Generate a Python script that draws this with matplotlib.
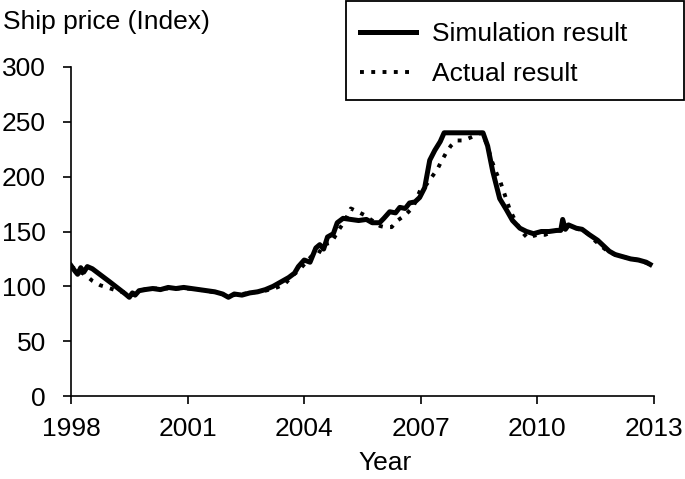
import matplotlib
matplotlib.use("Agg")
import matplotlib.pyplot as plt
from matplotlib.patches import Rectangle

plt.rcParams["font.family"] = ["Liberation Sans", "DejaVu Sans"]

# simulation result (year, index)
sim_year = [1998.00, 1998.10, 1998.17, 1998.25, 1998.33, 1998.42, 1998.55, 1999.00, 1999.40, 1999.50,
            1999.58, 1999.65, 1999.75, 1999.90, 2000.10, 2000.30, 2000.50, 2000.70, 2000.90, 2001.10,
            2001.30, 2001.50, 2001.70, 2001.90, 2002.05, 2002.20, 2002.40, 2002.60, 2002.80, 2003.00,
            2003.20, 2003.40, 2003.60, 2003.75, 2003.85, 2004.00, 2004.15, 2004.30, 2004.40, 2004.50,
            2004.60, 2004.75, 2004.85, 2005.00, 2005.20, 2005.40, 2005.60, 2005.75, 2005.94, 2006.05,
            2006.20, 2006.35, 2006.46, 2006.60, 2006.71, 2006.85, 2006.97, 2007.10, 2007.23, 2007.36,
            2007.50, 2007.60, 2008.60, 2008.72, 2008.85, 2009.03, 2009.20, 2009.36, 2009.55, 2009.72,
            2009.90, 2010.10, 2010.30, 2010.50, 2010.60, 2010.65, 2010.72, 2010.80, 2011.00, 2011.15,
            2011.34, 2011.55, 2011.70, 2011.85, 2012.00, 2012.20, 2012.40, 2012.60, 2012.80, 2012.90]
sim_val = [119, 114, 111, 117, 113, 118, 116, 104, 93, 90,
           94, 92, 96, 97, 98, 97, 99, 98, 99, 98,
           97, 96, 95, 93, 90, 93, 92, 94, 95, 97,
           100, 104, 108, 112, 118, 124, 122, 135, 138, 134,
           145, 148, 158, 162, 161, 160, 161, 158, 158, 162,
           168, 167, 172, 171, 176, 177, 181, 190, 215, 224,
           232, 240, 240, 228, 205, 180, 170, 160, 153, 150,
           148, 150, 150, 151, 151, 161, 152, 156, 153, 152,
           147, 142, 137, 132, 129, 127, 125, 124, 122, 120]

# actual result (year, index)
act_year = [1998.00, 1998.10, 1998.20, 1998.30, 1998.45, 1998.55, 1998.75, 1998.93, 1999.10, 1999.30,
            1999.47, 1999.60, 1999.75, 2000.00, 2000.50, 2001.00, 2001.50, 2002.00, 2002.20, 2002.60,
            2003.00, 2003.30, 2003.50, 2003.70, 2003.85, 2004.00, 2004.20, 2004.37, 2004.50, 2004.70,
            2004.90, 2005.05, 2005.20, 2005.38, 2005.55, 2005.75, 2005.95, 2006.07, 2006.25, 2006.40,
            2006.60, 2006.80, 2007.00, 2007.15, 2007.31, 2007.43, 2007.53, 2007.64, 2007.77, 2007.92,
            2008.10, 2008.30, 2008.56, 2008.70, 2008.82, 2008.95, 2009.05, 2009.29, 2009.40, 2009.55,
            2009.67, 2009.75, 2009.90, 2010.00, 2010.20, 2010.40, 2010.60, 2010.80, 2011.00, 2011.30,
            2011.50, 2011.70, 2011.85, 2012.00, 2012.30, 2012.60, 2012.90]
act_val = [118, 116, 113, 112, 108, 105, 101, 99, 97, 95,
           94, 93, 96, 98, 98, 98, 96, 92, 92, 94,
           96, 99, 102, 110, 114, 120, 128, 130, 138, 140,
           152, 160, 171, 168, 165, 160, 155, 154, 154, 160,
           165, 172, 189, 193, 201, 207, 214, 221, 228, 233,
           233, 236, 240, 230, 215, 203, 195, 170, 162, 152,
           147, 144, 146, 147, 147, 150, 152, 155, 153, 148,
           141, 135, 131, 129, 126, 124, 120]

xticks = [1998, 2001, 2004, 2007, 2010, 2013]
yticks = [0, 50, 100, 150, 200, 250, 300]

fs = 19
fig = plt.figure(figsize=(6.85, 4.79), dpi=100)
ax = fig.add_axes([71/685, 1-396/479, 583/685, 329/479])

ax.plot(sim_year, sim_val, color="black", lw=3.6, solid_joinstyle="round", label="Simulation result")
ax.plot(act_year, act_val, color="black", lw=2.8, linestyle=(0, (1, 1.9)), label="Actual result")

ax.set_xlim(1998, 2013)
ax.set_ylim(0, 300)
ax.set_xticks(xticks)
ax.set_yticks(yticks)
ax.tick_params(direction="out", length=6, width=1.2, labelsize=fs, pad=12)
ax.tick_params(axis="x", pad=9)
for s in ["top", "right"]:
    ax.spines[s].set_visible(False)
for s in ["left", "bottom"]:
    ax.spines[s].set_linewidth(1.2)

fig.text(3/685, 1-22/479, "Ship price (Index)", fontsize=fs, va="center", ha="left")
fig.text(385/685, 1-463/479, "Year", fontsize=fs, va="center", ha="center")

# legend box is wider than its contents in the original
fig.patches.append(Rectangle((346/685, 1-100/479), 338/685, 99/479, transform=fig.transFigure,
                             facecolor="white", edgecolor="black", lw=1.3, zorder=5))
leg = fig.legend(loc="upper left", bbox_to_anchor=(355/685, 1-17/479), fontsize=fs,
                 frameon=False, handlelength=2.1, handletextpad=0.6,
                 labelspacing=0.6, borderpad=0.2, borderaxespad=0)
leg.set_zorder(6)

fig.savefig("out.png", dpi=100)
